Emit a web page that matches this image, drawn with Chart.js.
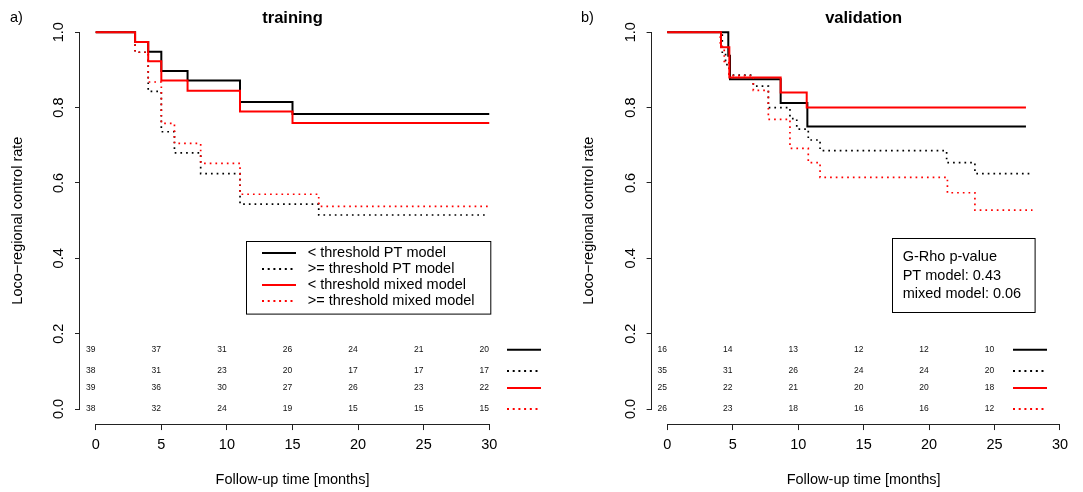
<!DOCTYPE html>
<html>
<head>
<meta charset="utf-8">
<script src="https://cdn.jsdelivr.net/npm/chart.js@4.4.1/dist/chart.umd.min.js"></script>
<style>
  body { margin: 0; background: #fff; }
  #wrap { position: relative; width: 1083px; height: 492px; }
  canvas { position: absolute; top: 0; }
</style>
</head>
<body>
<div id="wrap">
  <canvas id="cTrain" width="560" height="492" style="left:0"></canvas>
  <canvas id="cValid" width="523" height="492" style="left:560px"></canvas>
</div>
<script>
const FONT = '"Liberation Sans", Arial, Helvetica, sans-serif';

const xTicks = [0, 5, 10, 15, 20, 25, 30];
const yTicks = [0, 0.2, 0.4, 0.6, 0.8, 1.0];
const seriesNames = ['< threshold PT model', '>= threshold PT model', '< threshold mixed model', '>= threshold mixed model'];

// training: step times (months) and survival
const trainPtBelowT = [0, 3, 4, 5, 7, 11, 15, 30];
const trainPtBelowS = [1, 0.974, 0.948, 0.897, 0.872, 0.815, 0.783, 0.783];
const trainPtAboveT = [0, 3, 4, 5, 6, 8, 11, 17, 29.7];
const trainPtAboveS = [1, 0.947, 0.843, 0.736, 0.680, 0.625, 0.544, 0.515, 0.515];
const trainMixBelowT = [0, 3, 4, 5, 7, 11, 15, 30];
const trainMixBelowS = [1, 0.974, 0.923, 0.872, 0.845, 0.790, 0.759, 0.759];
const trainMixAboveT = [0, 3, 4, 5, 6, 8, 11, 17, 30];
const trainMixAboveS = [1, 0.947, 0.868, 0.758, 0.705, 0.652, 0.570, 0.538, 0.538];

// validation
const validPtBelowT = [0, 4.66, 4.79, 8.66, 10.7, 27.4];
const validPtBelowS = [1, 0.9375, 0.875, 0.8125, 0.75, 0.75];
const validPtAboveT = [0, 4.2, 4.45, 4.75, 6.57, 7.72, 9.37, 9.89, 10.77, 11.67, 21.34, 23.5, 27.7];
const validPtAboveS = [1, 0.943, 0.914, 0.886, 0.857, 0.80, 0.771, 0.743, 0.714, 0.686, 0.654, 0.625, 0.625];
const validMixBelowT = [0, 4.1, 4.74, 8.66, 10.65, 27.4];
const validMixBelowS = [1, 0.96, 0.88, 0.84, 0.80, 0.80];
const validMixAboveT = [0, 4.05, 4.35, 4.7, 6.57, 7.72, 9.37, 10.77, 11.67, 21.4, 23.5, 27.9];
const validMixAboveS = [1, 0.962, 0.923, 0.885, 0.846, 0.769, 0.692, 0.654, 0.615, 0.574, 0.528, 0.528];

// numbers at risk
const trainRiskTimes = [0, 5, 10, 15, 20, 25, 30];
const trainRisk = [
  [39, 37, 31, 26, 24, 21, 20],
  [38, 31, 23, 20, 17, 17, 17],
  [39, 36, 30, 27, 26, 23, 22],
  [38, 32, 24, 19, 15, 15, 15]
];
const validRiskTimes = [0, 5, 10, 15, 20, 25];
const validRisk = [
  [16, 14, 13, 12, 12, 10],
  [35, 31, 26, 24, 24, 20],
  [25, 22, 21, 20, 20, 18],
  [26, 23, 18, 16, 16, 12]
];
const pLines = ['G-Rho p-value', 'PT model: 0.43', 'mixed model: 0.06'];

const styles = [
  { color: '#000000', dotted: false },
  { color: '#000000', dotted: true },
  { color: '#ff0000', dotted: false },
  { color: '#ff0000', dotted: true }
];
const riskRowY = [0.157, 0.101, 0.056, 0];

function series(i, t, s) {
  const st = styles[i];
  return {
    label: seriesNames[i],
    data: t.map((v, k) => ({ x: v, y: s[k] })),
    stepped: true,
    borderColor: st.color,
    borderWidth: st.dotted ? 1.7 : 2,
    borderDash: st.dotted ? [1.7, 4] : [],
    pointRadius: 0,
    fill: false,
    order: st.color === '#ff0000' ? 0 : 1
  };
}

function sampleLine(ctx, x0, x1, y, st) {
  ctx.save();
  ctx.strokeStyle = st.color;
  ctx.lineWidth = 2;
  ctx.setLineDash(st.dotted ? [2, 3.7] : []);
  ctx.beginPath();
  ctx.moveTo(x0, y);
  ctx.lineTo(x1, y);
  ctx.stroke();
  ctx.restore();
}

function decor(p) {
  return {
    id: 'decor',
    afterDraw(chart) {
      const ctx = chart.ctx, xs = chart.scales.x, ys = chart.scales.y, a = chart.chartArea;
      ctx.save();
      // R style detached axis lines
      ctx.strokeStyle = '#222';
      ctx.lineWidth = 1;
      const by = Math.round(a.bottom) + 0.5, lx = Math.round(a.left) - 0.5;
      ctx.beginPath();
      ctx.moveTo(xs.getPixelForValue(xTicks[0]), by);
      ctx.lineTo(xs.getPixelForValue(xTicks[xTicks.length - 1]), by);
      ctx.moveTo(lx, ys.getPixelForValue(yTicks[0]));
      ctx.lineTo(lx, ys.getPixelForValue(yTicks[yTicks.length - 1]));
      ctx.stroke();

      ctx.fillStyle = '#000';
      ctx.textBaseline = 'middle';
      const cx = xs.getPixelForValue(15);
      ctx.font = 'bold 16.5px ' + FONT;
      ctx.textAlign = 'center';
      ctx.fillText(p.title, cx, 18);
      ctx.font = '14.5px ' + FONT;
      ctx.textAlign = 'left';
      ctx.fillText(p.tag, p.tagX, 18);
      ctx.textAlign = 'center';
      ctx.fillText('Follow-up time [months]', cx, 480);
      ctx.save();
      ctx.translate(p.yTitleX, ys.getPixelForValue(0.5));
      ctx.rotate(-Math.PI / 2);
      ctx.fillText('Loco\u2212regional control rate', 0, 0);
      ctx.restore();

      // numbers at risk
      ctx.font = '8.5px ' + FONT;
      ctx.fillStyle = '#111';
      p.risk.forEach((row, r) => {
        const y = ys.getPixelForValue(riskRowY[r]);
        row.forEach((n, i) => ctx.fillText(String(n), xs.getPixelForValue(p.riskTimes[i]) - 5, y));
        sampleLine(ctx, p.sampleX[0], p.sampleX[1], y, styles[r]);
      });

      // legend / annotation box
      const b = p.box;
      ctx.fillStyle = '#fff';
      ctx.fillRect(b.x, b.y, b.w, b.h);
      ctx.strokeStyle = '#000';
      ctx.lineWidth = 1;
      ctx.strokeRect(Math.round(b.x) + 0.5, Math.round(b.y) + 0.5, b.w, b.h);
      ctx.fillStyle = '#000';
      ctx.font = '14.5px ' + FONT;
      ctx.textAlign = 'left';
      b.lines.forEach((txt, i) => {
        const y = b.rowY[i];
        if (b.samples) sampleLine(ctx, b.sx0, b.sx1, y, styles[i]);
        ctx.fillText(txt, b.tx, y);
      });
      ctx.restore();
    }
  };
}

function makeChart(id, p) {
  const tickFont = { family: FONT, size: 14.5 };
  return new Chart(document.getElementById(id), {
    type: 'line',
    data: { datasets: p.datasets },
    options: {
      responsive: false,
      animation: false,
      devicePixelRatio: 1,
      layout: { padding: { left: 0, right: p.padRight, top: 17.2, bottom: 0 } },
      plugins: { legend: { display: false }, tooltip: { enabled: false }, title: { display: false } },
      scales: {
        x: {
          type: 'linear', min: -1.2, max: 31.2,
          afterBuildTicks: s => { s.ticks = xTicks.map(v => ({ value: v })); },
          afterFit: s => { s.height = 492 - 424.07; },
          grid: { drawOnChartArea: false, tickLength: 6, color: '#222' },
          border: { display: false },
          ticks: { autoSkip: false, maxRotation: 0, padding: 6, color: '#000', font: tickFont }
        },
        y: {
          type: 'linear', min: -0.04, max: 1.04,
          afterBuildTicks: s => { s.ticks = yTicks.map(v => ({ value: v })); },
          afterFit: s => { s.width = p.yWidth; },
          grid: { drawOnChartArea: false, tickLength: 5, color: '#222' },
          border: { display: false },
          ticks: {
            autoSkip: false, minRotation: 90, maxRotation: 90, crossAlign: 'center', padding: 6,
            color: '#000', font: tickFont, callback: v => Number(v).toFixed(1)
          }
        }
      }
    },
    plugins: [decor(p)]
  });
}

makeChart('cTrain', {
  title: 'training', tag: 'a)', tagX: 10, yTitleX: 18,
  yWidth: 80, padRight: 55,
  datasets: [
    series(0, trainPtBelowT, trainPtBelowS),
    series(1, trainPtAboveT, trainPtAboveS),
    series(2, trainMixBelowT, trainMixBelowS),
    series(3, trainMixAboveT, trainMixAboveS)
  ],
  risk: trainRisk, riskTimes: trainRiskTimes, sampleX: [507, 541],
  box: { x: 245.7, y: 240.7, w: 244.3, h: 72.6, lines: seriesNames, rowY: [253, 269, 285, 301],
         samples: true, sx0: 262, sx1: 296, tx: 307.7 }
});

makeChart('cValid', {
  title: 'validation', tag: 'b)', tagX: 21, yTitleX: 29,
  yWidth: 91.6, padRight: 7.3,
  datasets: [
    series(0, validPtBelowT, validPtBelowS),
    series(1, validPtAboveT, validPtAboveS),
    series(2, validMixBelowT, validMixBelowS),
    series(3, validMixAboveT, validMixAboveS)
  ],
  risk: validRisk, riskTimes: validRiskTimes, sampleX: [453, 487],
  box: { x: 331.7, y: 238.3, w: 142.6, h: 74, lines: pLines, rowY: [257.3, 275.7, 294],
         samples: false, tx: 342.7 }
});
</script>
</body>
</html>
